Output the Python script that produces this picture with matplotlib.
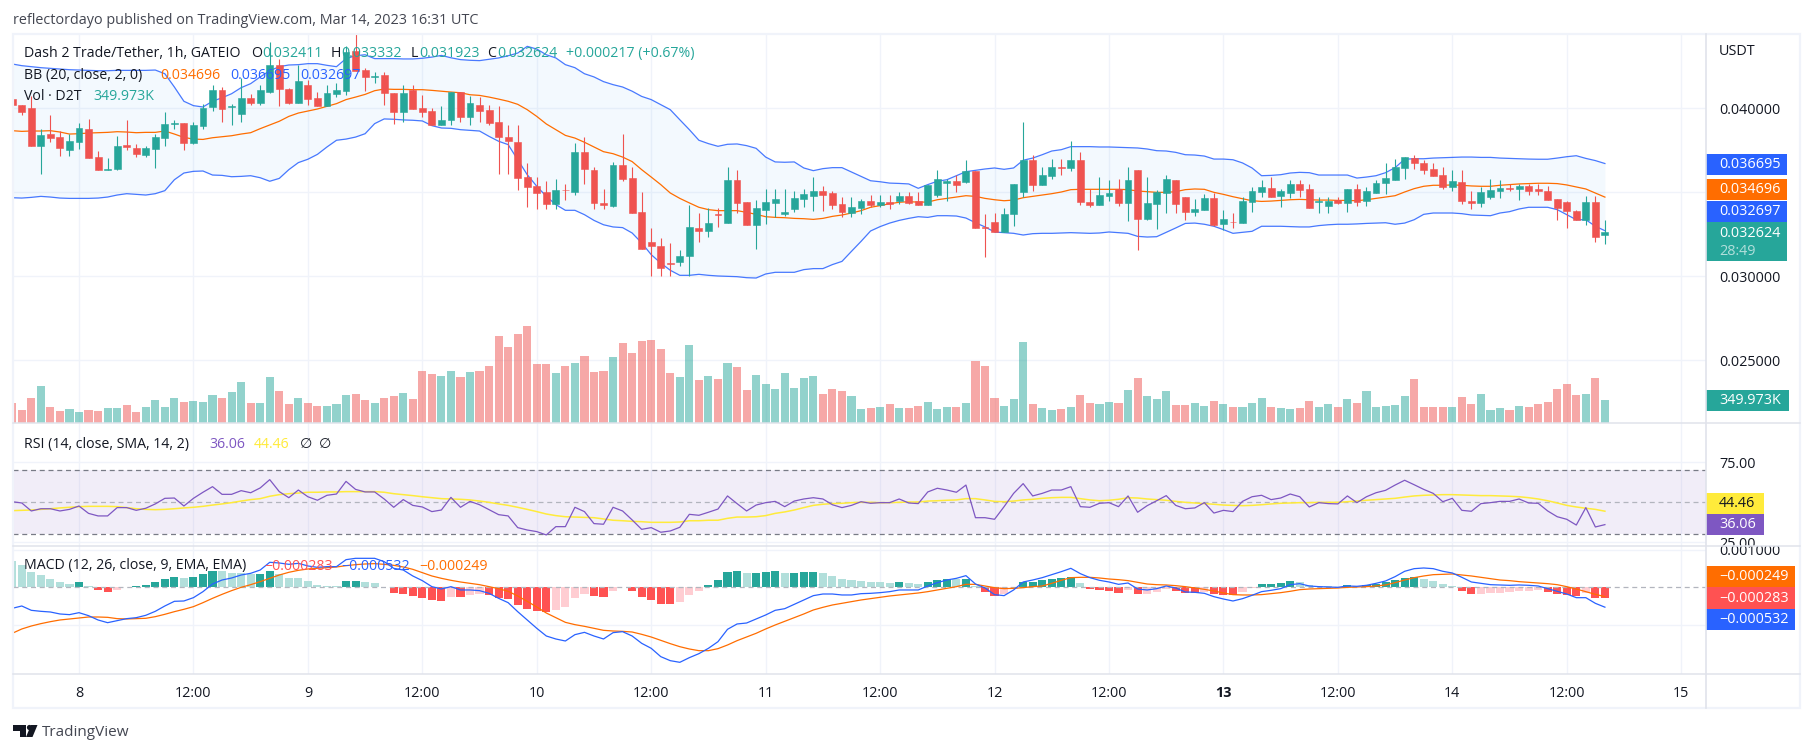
import numpy as np
import matplotlib
matplotlib.use('Agg')
import matplotlib.pyplot as plt
from matplotlib.patches import Rectangle, Circle, Polygon
from matplotlib.transforms import Bbox

plt.rcParams['font.family'] = ['Open Sans', 'DejaVu Sans']

# candles, micro USDT
opens = [40536,40200,40020,37760,38470,38290,37520,38000,38770,37100,
         36330,36390,37820,37640,37220,37580,38230,39050,39130,37920,
         38950,40080,41090,40040,39660,40610,40320,40970,42580,41150,
         40320,41390,40610,40140,40850,41030,43410,42280,41860,41980,
         40910,39780,41090,40020,39840,39010,39310,40970,39480,40200,
         39900,39190,38290,38000,35910,35380,35020,34310,35140,35020,
         37400,36330,34370,34190,36630,35850,33830,32040,31810,30790,
         30850,31210,32880,32700,33710,33170,35730,34420,33050,33950,
         34370,33710,34010,34600,34780,35080,34960,34310,33770,34070,
         34480,34250,34420,34480,34780,34480,34250,34840,35550,35670,
         35610,36270,32940,33230,32640,33710,35020,36920,35440,35970,
         36510,36450,36920,34420,34250,34780,35200,34370,36330,33410,
         34310,34960,35730,34720,33830,33950,34660,33120,33230,33170,
         34420,35020,35260,34780,34960,35500,35200,34420,34190,34540,
         34370,35200,34480,34960,35550,35730,36450,37040,36750,36390,
         36030,35320,35610,34480,34370,34720,35080,35260,35200,35380,
         35200,35080,34600,34420,33890,33350,34420,32411]
highs = [40536,40200,40690,38750,39600,38650,38470,39130,39360,37460,
         37040,38350,39310,37880,37760,38470,39780,39310,39130,39190,
         40260,41390,41270,40260,41800,40850,41390,43950,42940,41210,
         42580,41690,40970,41390,41510,43710,44420,42400,42160,42160,
         40910,41390,41390,40790,40020,40140,40970,40970,40730,40670,
         40200,40140,39010,39010,36750,35910,35670,35790,35500,37940,
         38290,36510,35200,36810,38470,36510,35020,32880,32280,31980,
         31570,34250,33770,34070,34070,36510,36330,34420,34540,35200,
         35200,35200,35080,35200,35910,35380,35080,34720,34720,34600,
         34840,34840,34840,35020,35020,35020,35440,36330,35790,36030,
         36920,36270,33710,33770,34070,35500,39190,37220,36510,36980,
         36980,38060,37400,35200,35910,35730,35790,36510,36330,35910,
         35140,36030,35730,34720,34600,34900,34960,33950,33770,34720,
         35320,35730,35910,35200,35730,35730,35500,34720,34720,34720,
         35200,35500,35320,35730,36750,36980,37100,37220,36920,36750,
         36510,36330,36330,35080,35320,35790,35730,35500,35500,35500,
         35500,35380,34600,34480,33950,34780,34780,33332]
lows = [40200,39600,37760,36090,38000,37160,37160,37580,37040,36290,
        36290,36330,37520,37100,37100,36450,37760,38770,37520,37880,
        38770,39840,39190,39010,39190,40200,40200,40910,40140,40260,
        40320,40200,40140,40140,40670,40790,42220,41030,41510,40200,
        39070,39190,39960,39480,39010,39010,39010,39190,39010,39190,
        39010,36090,36090,35140,34130,34010,34010,34010,34540,34840,
        35500,34010,34010,34130,35670,33770,31630,30020,30020,30020,
        30620,30020,32040,32340,32940,33170,33770,33050,31630,33120,
        33530,33590,33830,34130,33890,33890,34010,33530,33530,33710,
        34130,34130,34010,34310,34310,34250,34250,34720,34480,35020,
        35550,32880,31150,32640,32640,33000,34720,35080,35440,35790,
        36030,36270,34250,34130,34250,34480,34190,33290,31570,33350,
        32820,33770,33770,33350,33590,33950,33000,32760,32880,33170,
        33830,34720,34720,34130,34660,34720,34070,33770,33770,34310,
        33830,34190,34190,34960,34900,35730,35790,36390,36090,35970,
        35200,35080,34310,34010,34130,34600,34660,35080,34540,34840,
        34840,34540,33350,32880,33350,33050,32040,31923]
closes = [40200,39780,37760,38410,38230,37640,38060,38830,37040,36330,
          36390,37760,37700,37280,37640,38290,39070,39130,37940,39010,
          40020,41090,39960,40100,40610,40320,41090,42580,41150,40320,
          41610,40550,40140,40910,41090,43350,42220,41860,41920,40910,
          39780,40910,39960,39780,39010,39310,40970,39480,40320,39840,
          39130,38290,38060,35850,35320,34960,34310,35140,35100,37400,
          36390,34370,34250,36630,35790,33770,31630,31810,30500,30730,
          31210,32940,32700,33170,33650,35730,34370,33050,34070,34420,
          34600,33830,34660,34900,35080,34840,34250,33830,34130,34480,
          34250,34420,34310,34780,34370,34250,35440,35790,35670,35440,
          36270,32880,32880,32640,33710,35500,36920,35440,36030,36510,
          36410,36920,34420,34250,34840,34960,34370,35730,33410,34370,
          35020,35790,34310,33830,34010,34660,33050,33410,33190,34480,
          35080,35320,34720,35080,35500,35140,34070,34480,34480,34370,
          35200,34420,35080,35550,35850,36510,37100,36750,36330,35970,
          35320,35670,34480,34370,35020,35140,35260,35200,35380,35080,
          35080,34540,34070,33890,33350,34420,32340,32624]

# volume, thousands
volumes = [305,200,380,560,245,185,215,170,200,185,
           230,230,275,170,245,350,245,380,320,335,
           320,425,380,470,620,305,305,695,485,290,
           380,305,260,260,290,425,440,350,305,380,
           410,455,365,785,740,710,785,695,770,785,
           860,1310,1145,1340,1460,890,890,755,860,905,
           1010,770,785,995,1205,1055,1235,1250,1115,755,
           695,1175,650,710,665,905,845,500,725,590,
           515,755,530,680,710,440,515,485,410,215,
           230,245,290,230,230,260,320,215,245,245,
           305,935,860,380,260,365,1220,290,230,200,
           215,245,425,305,290,320,305,500,680,410,
           365,485,275,275,305,260,335,290,245,245,
           305,380,245,230,215,230,335,245,290,245,
           365,305,485,245,260,275,410,665,245,245,
           245,245,395,290,440,200,230,200,260,245,
           290,320,515,590,425,440,680,349.973]

# bollinger bands, micro USDT
bb_upper = [42620,42520,42460,42400,42360,42320,42280,42260,42240,42220,
            42220,42240,42240,42240,42240,42260,42040,41250,40400,40140,
            40060,40400,40610,40850,41210,41450,41850,42220,42460,42560,
            42580,42640,42640,42540,42460,42940,43110,43170,42940,42940,
            42940,42920,42920,42960,43030,43130,42990,42880,42840,42820,
            42900,42980,43110,43270,43670,43510,43170,42980,42580,42400,
            42040,41850,41570,41390,41250,41000,40690,40500,40200,39900,
            39300,38710,38080,37880,37720,37840,37860,37760,37600,37080,
            36790,36770,36790,36430,36270,36390,36450,36450,36190,35930,
            35670,35610,35530,35510,35480,35220,35440,35640,35730,35970,
            36210,36290,36370,36430,36350,36430,36890,37020,37220,37440,
            37520,37700,37700,37700,37680,37680,37660,37640,37620,37560,
            37460,37440,37360,37220,37200,37140,36960,36960,36920,36730,
            36430,35970,35990,36030,36130,36170,36150,36010,36010,36010,
            36010,35830,35890,35970,36150,36450,36950,36980,36980,37020,
            37040,37060,37080,37080,37060,37060,37020,37000,36980,36960,
            36950,36950,37020,37100,37160,37000,36870,36695]
bb_basis = [38650,38610,38630,38630,38650,38570,38450,38470,38510,38530,
            38550,38590,38570,38530,38550,38550,38630,38450,38250,38150,
            38130,38230,38290,38350,38450,38530,38770,38990,39210,39500,
            39700,39820,39940,40100,40260,40500,40650,40810,41030,41130,
            41110,41110,41090,41090,41050,41000,40950,40910,40790,40750,
            40650,40530,40400,40220,39900,39500,39050,38710,38370,38210,
            37960,37680,37400,37280,37080,36810,36330,35890,35440,34940,
            34620,34350,34090,33950,33890,33890,33890,33790,33670,33530,
            33490,33470,33430,33410,33370,33430,33550,33630,33750,33890,
            34090,34190,34300,34390,34420,34400,34400,34540,34620,34700,
            34780,34740,34620,34540,34480,34520,34660,34740,34820,34900,
            35000,35140,35160,35160,35160,35160,35160,35140,35060,35020,
            34980,34980,35020,35140,35180,35160,34980,34860,34720,34600,
            34480,34440,34460,34500,34540,34560,34540,34520,34520,34500,
            34500,34480,34540,34620,34700,34780,35000,35200,35340,35400,
            35400,35420,35400,35360,35340,35340,35400,35440,35480,35500,
            35520,35520,35500,35420,35300,35180,34940,34696]
bb_lower = [34660,34640,34680,34740,34700,34640,34620,34620,34620,34640,
            34700,34820,34900,34860,34820,34900,35080,35730,36130,36230,
            36250,36010,35990,35910,35930,35970,35850,35640,35810,36330,
            36750,36950,37240,37680,38080,38150,38270,38470,39070,39350,
            39330,39290,39270,39230,38950,38810,38790,38710,38670,38630,
            38310,38020,37820,36920,36030,35340,34740,34250,33910,33910,
            33650,33310,33050,32920,32880,32560,31970,31270,30770,30340,
            30040,30040,30100,30040,30000,29980,29960,29900,29880,30120,
            30220,30220,30220,30380,30440,30440,30680,30870,31470,32060,
            32680,32940,33150,33310,33430,33530,33490,33590,33590,33570,
            33450,33170,32920,32620,32580,32540,32440,32520,32540,32540,
            32560,32580,32560,32540,32560,32620,32580,32540,32360,32320,
            32340,32600,32860,33130,33150,33080,32960,32760,32540,32600,
            32660,32960,32960,32960,32940,32920,32920,33000,33050,33080,
            33080,33100,33130,33150,33170,33080,33150,33350,33670,33750,
            33750,33750,33710,33630,33610,33590,33750,33830,33990,34090,
            34090,34090,33950,33650,33350,33350,32960,32697]

rsi_values = [50.4,49.6,44.6,46.0,46.0,44.6,45.6,47.7,43.1,41.5,
              41.5,46.7,46.7,45.0,46.3,49.0,52.5,52.7,47.7,52.5,
              56.3,59.8,55.0,55.0,57.3,56.0,59.0,64.2,56.7,52.9,
              57.7,53.5,51.3,54.4,55.2,63.1,58.1,56.5,56.5,52.1,
              46.9,51.7,48.1,47.1,44.2,45.2,53.1,46.9,50.6,48.5,
              45.4,42.3,41.5,34.2,32.7,31.7,29.6,34.8,34.8,46.9,
              44.2,36.7,36.3,46.9,44.6,39.0,33.1,34.2,31.3,32.1,
              34.4,42.5,41.9,43.8,45.8,54.0,49.2,44.6,48.3,49.8,
              50.6,47.3,50.8,52.1,52.9,52.1,48.5,46.7,48.1,50.4,
              49.4,49.8,49.8,52.1,49.6,49.2,56.5,58.8,57.7,56.3,
              60.8,40.4,40.4,39.4,47.3,55.6,61.7,54.0,55.6,57.7,
              57.7,59.8,47.3,46.9,49.4,49.8,47.3,54.0,43.8,47.9,
              51.0,54.2,48.1,46.0,46.5,49.8,43.3,45.0,44.2,50.6,
              53.5,54.4,51.7,52.7,55.2,53.5,47.1,49.8,49.2,49.0,
              54.0,49.8,53.5,56.0,57.5,60.8,63.8,61.0,58.1,55.6,
              50.4,52.5,45.0,44.4,49.2,49.8,50.6,50.6,52.1,49.6,
              49.4,44.6,41.0,39.4,35.8,46.7,34.6,36.06]
rsi_sma = [44.8,45.0,45.2,45.6,46.0,46.5,46.9,47.3,47.5,47.5,
           47.5,47.3,46.7,46.0,45.6,45.4,45.6,46.0,46.5,46.9,
           47.5,48.3,49.0,49.8,50.8,51.7,52.3,53.8,54.8,55.4,
           55.8,56.3,56.3,56.5,56.5,56.7,56.7,56.7,56.7,56.3,
           55.4,54.8,54.2,53.5,52.9,52.3,52.1,51.9,51.5,50.8,
           50.0,49.0,48.1,46.9,45.6,44.2,42.7,41.7,41.0,40.8,
           40.6,40.4,39.6,38.8,38.5,38.1,37.9,37.5,37.5,37.5,
           37.7,38.5,38.5,38.8,38.8,40.0,40.8,40.8,41.0,41.7,
           43.1,44.0,45.2,46.7,48.1,48.8,49.2,49.4,49.8,50.0,
           50.0,49.8,49.8,50.0,50.2,50.2,50.8,51.0,51.3,51.5,
           52.3,52.3,51.5,50.6,50.4,50.8,51.5,51.9,52.5,52.9,
           53.1,53.1,52.3,51.5,51.0,51.3,51.9,52.9,52.7,52.1,
           51.7,51.3,50.6,50.0,49.6,49.2,48.8,48.3,48.1,47.9,
           48.1,48.5,49.0,49.4,49.6,49.8,49.8,50.0,50.0,50.0,
           50.4,50.8,51.3,51.7,52.1,52.5,53.3,54.0,54.4,54.6,
           54.8,54.8,54.6,54.4,54.2,54.2,54.0,53.8,53.5,52.9,
           52.1,51.0,49.6,48.1,47.1,46.3,45.6,44.46]

# macd, micro USDT
macd_line = [-563,-500,-616,-643,-661,-714,-732,-679,-759,-875,
             -947,-893,-839,-813,-750,-643,-500,-375,-366,-277,
             -116,89,196,250,330,375,464,670,652,616,
             643,572,536,554,554,741,777,777,777,688,
             509,464,304,179,18,-45,18,-71,-71,-89,
             -161,-295,-411,-652,-875,-1098,-1304,-1384,-1438,-1268,
             -1206,-1304,-1384,-1214,-1188,-1304,-1500,-1634,-1857,-1965,
             -2009,-1884,-1777,-1634,-1456,-1125,-982,-956,-848,-741,
             -616,-572,-455,-339,-223,-179,-179,-205,-205,-170,
             -161,-143,-116,-71,-71,-71,36,125,196,241,
             313,89,-18,-196,-223,-71,143,196,259,339,
             420,509,366,259,188,143,80,116,-45,-71,
             -36,36,-18,-125,-134,-161,-250,-313,-366,-304,
             -214,-116,-80,-36,71,98,36,18,9,0,
             36,27,54,107,170,286,429,500,518,500,
             429,384,268,143,107,71,63,54,63,54,
             36,-36,-107,-179,-277,-277,-429,-532]
macd_signal = [-1232,-1116,-1036,-973,-920,-875,-848,-822,-795,-795,
               -804,-839,-848,-839,-830,-786,-723,-652,-589,-518,
               -411,-295,-188,-89,0,71,152,241,330,402,
               455,491,509,527,545,580,607,625,634,616,
               589,545,482,393,304,241,188,143,107,71,
               18,-36,-107,-232,-375,-527,-688,-813,-938,-1000,
               -1045,-1098,-1152,-1170,-1179,-1197,-1259,-1331,-1420,-1509,
               -1590,-1652,-1697,-1697,-1643,-1545,-1429,-1331,-1232,-1116,
               -1009,-911,-813,-714,-607,-536,-473,-429,-384,-339,
               -304,-268,-232,-205,-179,-152,-116,-71,-27,18,
               80,80,36,-9,-36,-27,-9,18,36,107,
               188,259,268,268,250,223,205,179,134,89,
               71,63,45,18,-18,-54,-98,-152,-196,-205,
               -205,-196,-170,-143,-107,-63,-45,-36,-27,-18,
               0,9,18,36,63,125,196,259,304,339,
               348,357,330,304,268,232,196,179,152,134,
               116,98,71,18,-45,-116,-188,-249]
macd_hist = [705,598,411,330,223,143,89,143,36,-71,
             -125,-71,9,36,63,143,223,277,250,277,
             357,438,429,384,380,357,366,438,357,250,
             245,170,63,36,31,170,179,143,116,9,
             -152,-179,-232,-286,-339,-366,-259,-268,-205,-179,
             -205,-286,-313,-473,-580,-634,-661,-607,-527,-286,
             -179,-232,-259,-98,9,-98,-259,-339,-447,-455,
             -393,-205,-98,63,196,411,438,384,393,411,
             438,384,393,402,411,384,304,223,196,170,
             143,138,116,143,116,89,143,196,223,214,
             223,36,-125,-232,-179,-45,143,152,196,223,
             250,277,116,-45,-71,-98,-152,-71,-179,-170,
             -125,-45,-98,-152,-161,-125,-179,-205,-214,-125,
             -9,89,98,116,170,143,63,36,27,18,
             63,36,63,89,143,196,250,277,223,170,
             89,36,-98,-179,-170,-152,-143,-125,-98,-89,
             -80,-125,-179,-205,-232,-152,-277,-283]

time_ticks = [7,19,31,43,55,67,79,91,103,115,127,139,151,163,175]
time_labels = ['8','12:00','9','12:00','10','12:00','11','12:00','12','12:00','13','12:00','14','12:00','15']
price_ticks = [0.025,0.030,0.035,0.040]
rsi_ticks = [25,75]
macd_ticks = [-1000e-6,1000e-6]

UP = '#26a69a'
DOWN = '#ef5350'
BLUE = '#2962ff'
ORANGE = '#ff6d00'
GRID = '#f0f3fa'
LINE = '#e0e3eb'
INK = '#131722'
W, H = 1814, 753
LEFT, RIGHT, EDGE = 13, 1706, 1800
SCALE_X = 1719

fig = plt.figure(figsize=(W/100, H/100), dpi=100, facecolor='white')


def pane(top, bottom):
    ax = fig.add_axes([LEFT/W, 1-bottom/H, (RIGHT-LEFT)/W, (bottom-top)/H])
    ax.set_xlim(0.08, 177.6)
    ax.set_xticks(time_ticks)
    ax.set_xticklabels([])
    ax.grid(True, color=GRID, lw=1)
    ax.set_axisbelow(True)
    ax.yaxis.tick_right()
    ax.tick_params(length=0, labelsize=10.4, labelcolor=INK, pad=9.4)
    for s in ax.spines.values():
        s.set_visible(False)
    return ax


x = np.arange(len(opens))
o = np.array(opens)*1e-6
h = np.array(highs)*1e-6
l = np.array(lows)*1e-6
c = np.array(closes)*1e-6
up = c >= o
colors = np.where(up, UP, DOWN)

# price pane
ax = pane(34, 423)
ax.set_ylim(0.02125, 0.044405)
ax.set_yticks(price_ticks)
ax.set_yticklabels(['%.6f' % t for t in price_ticks])
ax.fill_between(x, np.array(bb_lower)*1e-6, np.array(bb_upper)*1e-6, color='#2196f3', alpha=0.05, lw=0)
ax.plot(x, np.array(bb_basis)*1e-6, color=ORANGE, lw=0.9)
ax.plot(x, np.array(bb_upper)*1e-6, color=BLUE, lw=0.9, alpha=0.85)
ax.plot(x, np.array(bb_lower)*1e-6, color=BLUE, lw=0.9, alpha=0.85)
ax.vlines(x, l, h, colors=colors, lw=0.8, zorder=3)
ax.bar(x, np.abs(c-o), bottom=np.minimum(o, c), width=0.72, color=colors, edgecolor=colors, lw=0.4, zorder=4)

vol_ax = ax.twinx()
vol_ax.set_ylim(0, 5835)
vol_ax.patch.set_visible(False)
vol_ax.axis('off')
vol_ax.bar(x, volumes, width=0.85, color=colors, alpha=0.5, lw=0)
# twinx moves the price ticks back to the left
ax.yaxis.tick_right()

# rsi pane
ax_rsi = pane(423, 546)
ax_rsi.set_ylim(22.7, 99.6)
ax_rsi.set_yticks(rsi_ticks)
ax_rsi.set_yticklabels(['%.2f' % t for t in rsi_ticks])
ax_rsi.axhspan(30, 70, color='#7e57c2', alpha=0.1, lw=0)
for level, col in ((70, '#787b86'), (50, '#b2b5be'), (30, '#787b86')):
    ax_rsi.axhline(level, color=col, lw=0.9, dashes=(4, 3))
ax_rsi.plot(x, rsi_sma, color='#ffeb3b', lw=1.1)
ax_rsi.plot(x, rsi_values, color='#7e57c2', lw=0.9)

# macd pane
ax_macd = pane(546, 674)
ax_macd.set_ylim(-2322e-6, 1107e-6)
ax_macd.set_yticks(macd_ticks)
ax_macd.set_yticklabels(['', '0.001000'])
ax_macd.axhline(0, color='#b2b5be', lw=0.9, dashes=(4, 3))
hist = np.array(macd_hist)*1e-6
prev = np.r_[np.inf, hist[:-1]]
hist_colors = []
for v, p in zip(hist, prev):
    if v >= 0:
        hist_colors.append('#26a69a' if v > p else '#b2dfdb')
    else:
        hist_colors.append('#ff5252' if v < p else '#ffcdd2')
ax_macd.bar(x, hist, width=0.85, color=hist_colors, lw=0)
ax_macd.plot(x, np.array(macd_signal)*1e-6, color=ORANGE, lw=0.9)
ax_macd.plot(x, np.array(macd_line)*1e-6, color=BLUE, lw=0.9)
ax_macd.set_xticklabels(time_labels)
ax_macd.tick_params(axis='x', pad=8.5)
ax_macd.get_xticklabels()[10].set_fontweight('bold')

# 25.00 and 0.001000 collide at the pane border and get cut
for label in ax_rsi.get_yticklabels():
    label.set_clip_box(Bbox([[RIGHT, H-546], [W, H-423]]))
    label.set_clip_on(True)
for label in ax_macd.get_yticklabels():
    label.set_clip_box(Bbox([[RIGHT, H-674], [W, H-546]]))
    label.set_clip_on(True)

# chrome on top, in pixels
top = fig.add_axes([0, 0, 1, 1], zorder=10)
top.set_xlim(0, W)
top.set_ylim(H, 0)
top.axis('off')
top.patch.set_visible(False)

top.add_patch(Rectangle((12.5, 34), EDGE-12.5, 674, fill=False, ec=GRID, lw=1.6))
top.plot([RIGHT, RIGHT], [34, 708], color=LINE, lw=1.2)
for yy in (423, 546, 674):
    top.plot([13, EDGE], [yy, yy], color=LINE, lw=1.1)


def txt(px, py, s, color=INK, size=10.2, **kw):
    top.text(px, py, s, color=color, fontsize=size, va='center', **kw)


def badge(y0, y1, x1, color, s, tc='white'):
    top.add_patch(Rectangle((RIGHT, y0), x1-RIGHT, y1-y0, fc=color, ec='none'))
    txt(SCALE_X, (y0+y1)/2, s, color=tc, size=10.4)


txt(13, 20, 'reflectordayo published on TradingView.com, Mar 14, 2023 16:31 UTC', color='#434651', size=10.4)
txt(24, 53, 'Dash 2 Trade/Tether, 1h, GATEIO')
for px, s, col in ((251, 'O', INK), (262, '0.032411', UP), (331, 'H', INK), (341, '0.033332', UP),
                   (411, 'L', INK), (419, '0.031923', UP), (487, 'C', INK), (497, '0.032624', UP),
                   (566, '+0.000217 (+0.67%)', UP)):
    txt(px, 53, s, color=col)
txt(24, 75, 'BB (20, close, 2, 0)')
for px, s, col in ((160, '0.034696', ORANGE), (230, '0.036695', BLUE), (300, '0.032697', BLUE)):
    txt(px, 75, s, color=col)
txt(24, 96, 'Vol \u00b7 D2T')
txt(93, 96, '349.973K', color=UP)
txt(24, 444, 'RSI (14, close, SMA, 14, 2)')
for px, s, col in ((209, '36.06', '#7e57c2'), (254, '44.46', '#ffeb3b'), (300, '\u2205', INK), (319, '\u2205', INK)):
    txt(px, 444, s, color=col)
txt(24, 566, 'MACD (12, 26, close, 9, EMA, EMA)')
for px, s, col in ((264, '\u22120.000283', '#ff5252'), (341, '\u22120.000532', BLUE), (419, '\u22120.000249', ORANGE)):
    txt(px, 566, s, color=col)

txt(SCALE_X, 51, 'USDT', size=10.4)
badge(154, 175, 1787, BLUE, '0.036695')
badge(179, 200, 1787, ORANGE, '0.034696')
badge(201, 222, 1787, BLUE, '0.032697')
top.add_patch(Rectangle((RIGHT, 222), 1787-RIGHT, 39, fc=UP, ec='none'))
txt(SCALE_X, 233, '0.032624', color='white', size=10.4)
txt(SCALE_X, 251, '28:49', color='#b2dfdb', size=10.4)
badge(390, 411, 1789, UP, '349.973K')
badge(493, 514, 1764, '#ffeb3b', '44.46', tc=INK)
badge(514, 535, 1764, '#7e57c2', '36.06')
badge(566, 587, 1795, ORANGE, '\u22120.000249')
badge(587, 609, 1795, '#ff5252', '\u22120.000283')
badge(609, 630, 1795, BLUE, '\u22120.000532')

# logo
top.add_patch(Polygon([(13, 725), (26, 725), (26, 737), (20, 737), (20, 731), (13, 731)], fc=INK, ec='none'))
top.add_patch(Circle((29.5, 727.5), 2.6, fc=INK, ec='none'))
top.add_patch(Polygon([(31, 725), (37.5, 725), (32.5, 737), (26, 737)], fc=INK, ec='none'))
txt(42, 732, 'TradingView', color='#434651', size=11)

fig.savefig('out.png', dpi=100, facecolor='white')
